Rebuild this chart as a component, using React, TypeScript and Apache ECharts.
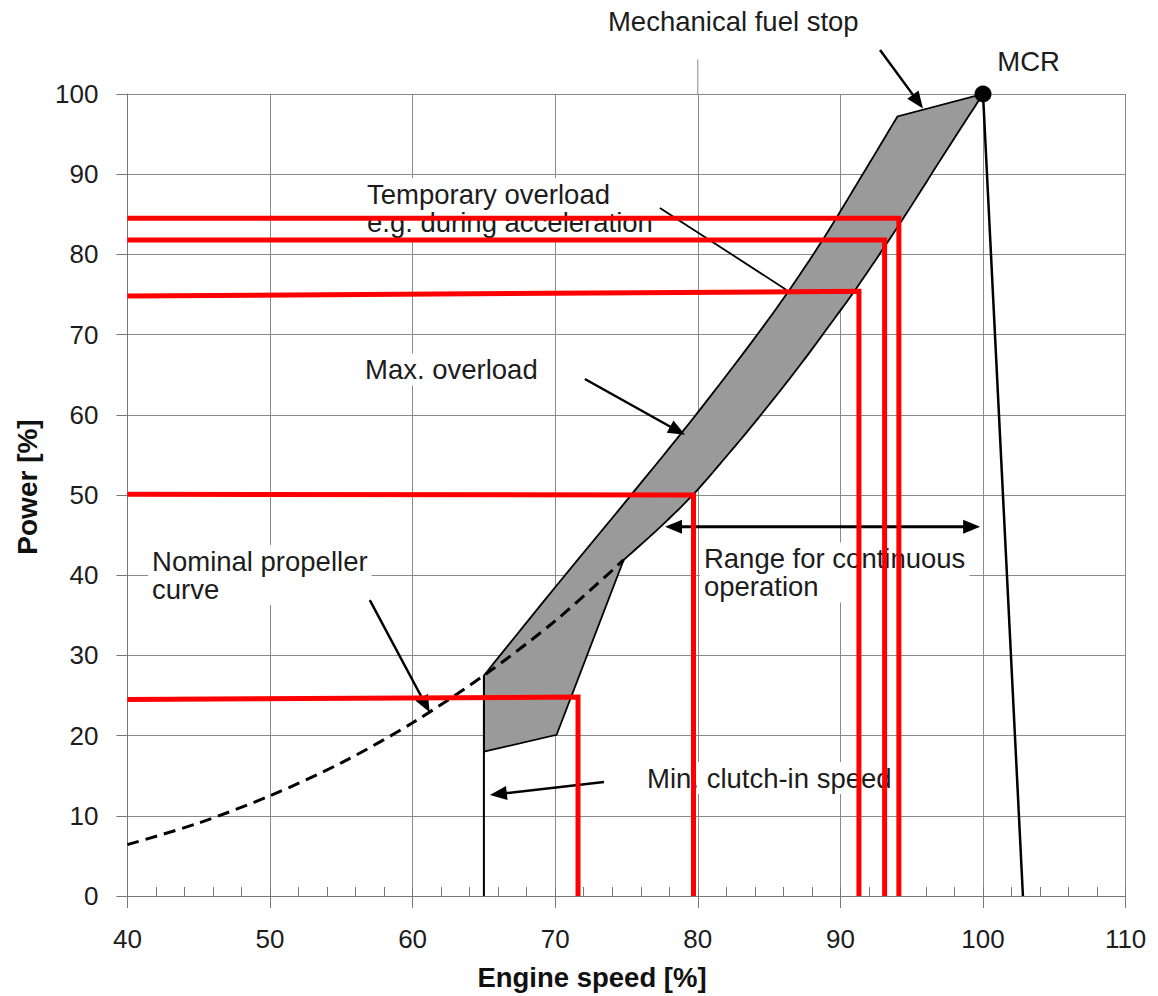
import React, { useEffect, useRef } from "react";
import * as echarts from "echarts";

const FONT = '"Liberation Sans", Arial, Helvetica, sans-serif';

// Axis ranges (engine speed %, power %)
const speedMin = 40;
const speedMax = 110;
const speedStep = 10;
const powerMin = 0;
const powerMax = 100;
const powerStep = 10;

// Nominal propeller curve: engine speed %, power %
const propellerCurve: number[][] = [
  [40, 6.4], [45, 9.1], [50, 12.5], [55, 16.6], [60, 21.6],
  [65, 27.5], [70, 34.3], [74.8, 41.9],
];

// Max. overload limit – upper edge of the overload band (curved part ends at the fuel stop)
const overloadUpper: number[][] = [
  [65.0, 27.5], [70, 38.5], [75, 49.3], [80, 60.3], [85, 72.0],
  [88.5, 81.1], [91.5, 89.8], [94.0, 97.2],
];
// Mechanical fuel stop segment up to MCR
const fuelStopEnd: number[] = [100, 100];

// Lower edge of the band, from MCR back down (curved part), then the straight low-speed part
const overloadLower: number[][] = [
  [100, 100], [97.2, 92.3], [94.3, 84.2], [91.4, 76.5], [89.5, 71.8],
  [87.0, 65.8], [84.2, 59.5], [82.0, 54.8], [79.7, 50.1], [77.3, 45.9], [74.8, 41.9],
];
const overloadLowSpeed: number[][] = [[70.1, 20.1], [65.0, 18.0]];

const mcrPoint: number[] = [100, 100];
const speedLimitLine: number[][] = [[100, 100], [102.8, 0]];
const clutchInLine: number[][] = [[65.0, 0], [65.0, 27.5]];

// Red operating limits: level from 40 % speed to the corner, then down to zero power
const redLimitLevels: number[] = [24.5, 50.1, 74.8, 81.8, 84.5];
const redLimitCorners: number[][] = [
  [71.6, 24.8], [79.7, 50.0], [91.3, 75.4], [93.1, 81.8], [94.1, 84.5],
];

// Annotation texts, anchored at (left edge, first line centre) in data units
const labelTexts: string[] = [
  "Mechanical fuel stop",
  "MCR",
  "Temporary overload\ne.g. during acceleration",
  "Max. overload",
  "Nominal propeller\ncurve",
  "Min. clutch-in speed",
  "Range for continuous\noperation",
];
const labelAnchors: number[][] = [
  [73.7, 109.0], [101.0, 104.0], [56.8, 87.5], [56.66, 65.65],
  [41.73, 41.77], [76.44, 14.71], [80.43, 42.08],
];

// Pointer arrows: [x1, y1, x2, y2, head at start, head at end, line width]
const pointers: number[][] = [
  [92.78, 105.5, 95.79, 98.2, 0, 1, 2.5],
  [77.34, 85.8, 86.2, 75.6, 0, 0, 1.8],
  [72.08, 64.46, 79.1, 57.5, 0, 1, 2.5],
  [57.0, 36.9, 61.2, 22.9, 0, 1, 2.5],
  [73.42, 14.2, 65.42, 12.6, 0, 1, 2.5],
  [77.7, 46.05, 99.8, 46.05, 1, 1, 3],
];

const GRID_COLOR = "#8a8a8a";
const AXIS_COLOR = "#777777";
const TEXT_COLOR = "#1c1c1c";
const LABEL_SIZE = 27.5;
const LABEL_LINE = 28;

// Catmull-Rom curve through pixel points, so the band edges bend smoothly
function smoothThrough(pts: number[][], steps = 10): number[][] {
  const out: number[][] = [];
  for (let i = 0; i < pts.length - 1; i++) {
    const p0 = pts[Math.max(i - 1, 0)];
    const p1 = pts[i];
    const p2 = pts[i + 1];
    const p3 = pts[Math.min(i + 2, pts.length - 1)];
    for (let s = 0; s < steps; s++) {
      const t = s / steps;
      const t2 = t * t;
      const t3 = t2 * t;
      const f = (a: number, b: number, c: number, d: number) =>
        0.5 * (2 * b + (-a + c) * t + (2 * a - 5 * b + 4 * c - d) * t2 + (-a + 3 * b - 3 * c + d) * t3);
      out.push([f(p0[0], p1[0], p2[0], p3[0]), f(p0[1], p1[1], p2[1], p3[1])]);
    }
  }
  out.push(pts[pts.length - 1]);
  return out;
}

function buildOption(): echarts.EChartsOption {
  const redSeries = redLimitLevels.map((lvl, i) => ({
    type: "line",
    data: [[speedMin, lvl], redLimitCorners[i], [redLimitCorners[i][0], 0]],
    showSymbol: false,
    symbol: "none",
    silent: true,
    clip: false,
    z: 6,
    lineStyle: { color: "#ff0000", width: 5, cap: "butt", join: "miter" },
  }));

  const arrowHead = (tip: number[], from: number[]) => {
    const dx = tip[0] - from[0];
    const dy = tip[1] - from[1];
    const len = Math.hypot(dx, dy) || 1;
    const ux = dx / len;
    const uy = dy / len;
    const L = 17;
    const H = 7;
    const bx = tip[0] - ux * L;
    const by = tip[1] - uy * L;
    return {
      type: "polygon",
      shape: { points: [tip, [bx - uy * H, by + ux * H], [bx + uy * H, by - ux * H]] },
      style: { fill: "#000" },
    };
  };

  return {
    animation: false,
    grid: { left: 127.4, right: 32.4, top: 94, bottom: 100, containLabel: false },
    xAxis: [
      {
        type: "value",
        min: speedMin,
        max: speedMax,
        interval: speedStep,
        axisLine: { show: true, lineStyle: { color: AXIS_COLOR, width: 1 } },
        axisTick: { show: true, inside: false, length: 12, lineStyle: { color: AXIS_COLOR } },
        axisLabel: { show: true, margin: 30, fontSize: 26, fontFamily: FONT, color: TEXT_COLOR },
        splitLine: { show: true, lineStyle: { color: GRID_COLOR, width: 1 } },
      },
      {
        type: "value",
        gridIndex: 0,
        position: "bottom",
        min: speedMin,
        max: speedMax,
        interval: speedStep,
        axisLine: { show: false },
        axisTick: { show: true, inside: true, length: 9, lineStyle: { color: AXIS_COLOR } },
        minorTick: { show: true, splitNumber: 5, length: 9, lineStyle: { color: AXIS_COLOR } },
        axisLabel: { show: false },
        splitLine: { show: false },
      },
    ],
    yAxis: {
      type: "value",
      min: powerMin,
      max: powerMax,
      interval: powerStep,
      axisLine: { show: true, lineStyle: { color: AXIS_COLOR, width: 1 } },
      axisTick: { show: true, inside: false, length: 11, lineStyle: { color: AXIS_COLOR } },
      axisLabel: { show: true, margin: 29, fontSize: 26, fontFamily: FONT, color: TEXT_COLOR },
      splitLine: { show: true, lineStyle: { color: GRID_COLOR, width: 1 } },
    },
    graphic: [
      {
        type: "text",
        x: 27,
        y: 487,
        rotation: Math.PI / 2,
        style: {
          text: "Power [%]",
          font: `bold 28px ${FONT}`,
          fill: "#111",
          align: "center",
          verticalAlign: "middle",
        },
      },
      {
        type: "text",
        x: 592,
        y: 977,
        style: {
          text: "Engine speed [%]",
          font: `bold 27.5px ${FONT}`,
          fill: "#111",
          align: "center",
          verticalAlign: "middle",
        },
      },
    ],
    series: [
      // short stub of the 80 % speed grid line above the plot
      {
        type: "line",
        data: [[80, 100], [80, 104.3]],
        showSymbol: false,
        symbol: "none",
        silent: true,
        clip: false,
        z: 1,
        lineStyle: { color: GRID_COLOR, width: 1 },
      },
      // annotation texts with white boxes over the grid
      {
        type: "custom",
        silent: true,
        z: 1,
        data: labelAnchors,
        encode: { x: 0, y: 1 },
        renderItem: (params: any, api: any) => {
          const i = params.dataIndex;
          const p = api.coord([api.value(0), api.value(1)]);
          return {
            type: "text",
            x: p[0] - 4,
            y: p[1] - LABEL_LINE / 2 - 2,
            style: {
              text: labelTexts[i],
              font: `${LABEL_SIZE}px ${FONT}`,
              fill: TEXT_COLOR,
              backgroundColor: "#ffffff",
              padding: [2, 4, 2, 4],
              lineHeight: LABEL_LINE,
              align: "left",
              verticalAlign: "top",
            },
          };
        },
      },
      // overload band
      {
        type: "custom",
        silent: true,
        z: 2,
        data: [[82, 60]],
        renderItem: (_params: any, api: any) => {
          const toPx = (arr: number[][]) => arr.map((p) => api.coord(p));
          const upper = smoothThrough(toPx(overloadUpper));
          const lower = smoothThrough(toPx(overloadLower));
          const pts = [...upper, api.coord(fuelStopEnd), ...lower.slice(1), ...toPx(overloadLowSpeed)];
          return {
            type: "polygon",
            shape: { points: pts },
            style: { fill: "#9a9a9a", stroke: "#000", lineWidth: 1.8, lineJoin: "miter" },
          };
        },
      },
      // nominal propeller curve
      {
        type: "line",
        data: propellerCurve,
        smooth: 0.3,
        showSymbol: false,
        symbol: "none",
        silent: true,
        z: 3,
        lineStyle: { color: "#000", width: 3, type: [12, 7], cap: "butt" },
      },
      // min. clutch-in speed
      {
        type: "line",
        data: clutchInLine,
        showSymbol: false,
        symbol: "none",
        silent: true,
        z: 3,
        lineStyle: { color: "#000", width: 2 },
      },
      // limit line down from MCR
      {
        type: "line",
        data: speedLimitLine,
        showSymbol: false,
        symbol: "none",
        silent: true,
        z: 3,
        lineStyle: { color: "#000", width: 2.5 },
      },
      // pointer arrows
      {
        type: "custom",
        silent: true,
        z: 4,
        data: pointers,
        encode: { x: [0, 2], y: [1, 3] },
        renderItem: (_params: any, api: any) => {
          const a = api.coord([api.value(0), api.value(1)]);
          const b = api.coord([api.value(2), api.value(3)]);
          const headStart = api.value(4) === 1;
          const headEnd = api.value(5) === 1;
          const w = api.value(6);
          const dx = b[0] - a[0];
          const dy = b[1] - a[1];
          const len = Math.hypot(dx, dy) || 1;
          const ux = dx / len;
          const uy = dy / len;
          const s = headStart ? [a[0] + ux * 10, a[1] + uy * 10] : a;
          const e = headEnd ? [b[0] - ux * 10, b[1] - uy * 10] : b;
          const children: any[] = [
            {
              type: "line",
              shape: { x1: s[0], y1: s[1], x2: e[0], y2: e[1] },
              style: { stroke: "#000", lineWidth: w },
            },
          ];
          if (headEnd) children.push(arrowHead(b, a));
          if (headStart) children.push(arrowHead(a, b));
          return { type: "group", children };
        },
      },
      ...redSeries,
      // MCR point
      {
        type: "scatter",
        data: [mcrPoint],
        symbolSize: 17,
        silent: true,
        z: 7,
        itemStyle: { color: "#000", opacity: 1 },
      },
    ] as any,
  };
}

export default function App() {
  const ref = useRef<HTMLDivElement>(null);
  useEffect(() => {
    document.body.style.margin = "0";
    const chart = echarts.init(ref.current!, undefined, { renderer: "svg" });
    chart.setOption(buildOption());
    return () => chart.dispose();
  }, []);
  return <div ref={ref} style={{ width: 1158, height: 996, background: "#fff" }} />;
}
